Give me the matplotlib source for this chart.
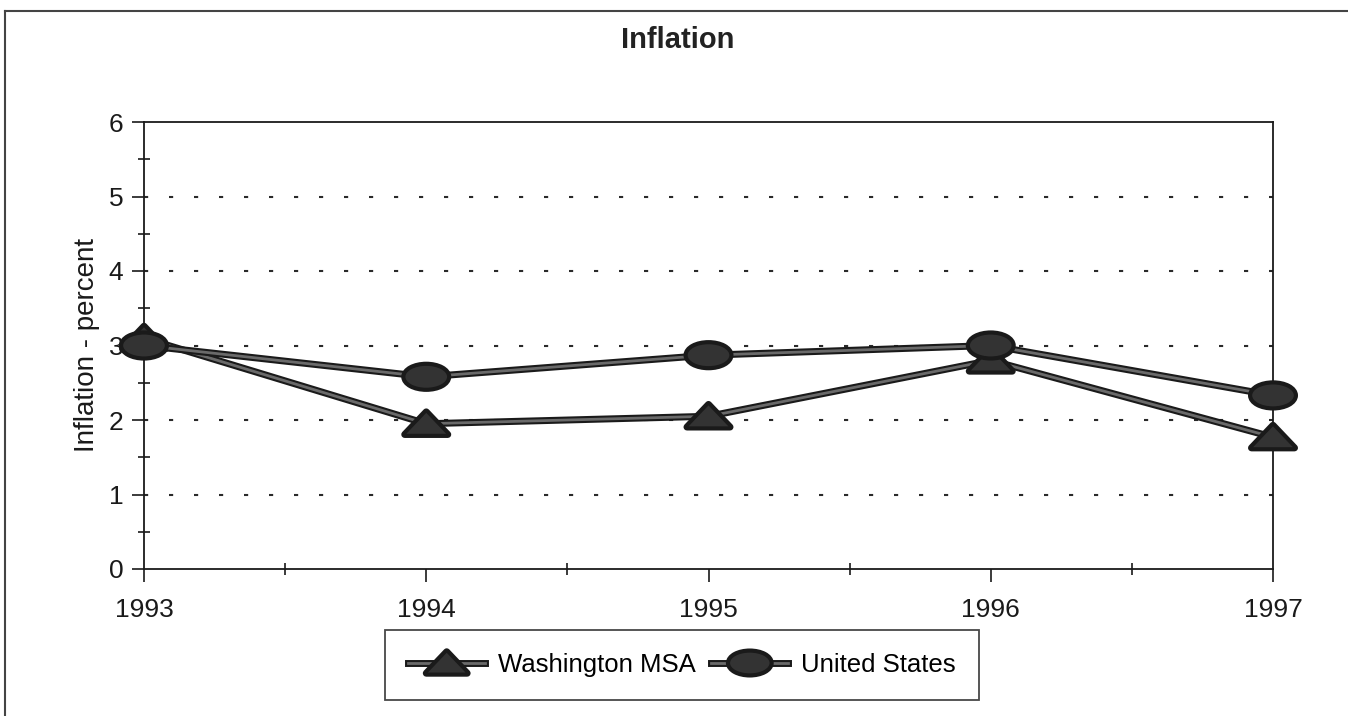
import numpy as np
import matplotlib
matplotlib.use("Agg")
from matplotlib import pyplot as plt
from matplotlib.path import Path
from matplotlib.lines import Line2D
import matplotlib.patheffects as pe

years = [1993, 1994, 1995, 1996, 1997]
washington = [3.1, 1.95, 2.05, 2.8, 1.77]
united_states = [3.0, 2.58, 2.87, 3.0, 2.33]
series_labels = ["Washington MSA", "United States"]

plt.rcParams["font.family"] = ["Liberation Sans", "DejaVu Sans"]

# flattened markers: wide triangle and ellipse
tri = Path([(-1, -0.5), (1, -0.5), (0, 0.55), (-1, -0.5)],
           [Path.MOVETO, Path.LINETO, Path.LINETO, Path.CLOSEPOLY])
circ = Path.unit_circle()
ellipse = Path(circ.vertices * np.array([1.0, 0.54]), circ.codes)

fig = plt.figure(figsize=(13.48, 7.16), dpi=100)
ax = fig.add_axes([144 / 1348, 1 - 569 / 716, (1273 - 144) / 1348, (569 - 122) / 716])

line_fx = [pe.Stroke(linewidth=5, foreground="#1a1a1a"), pe.Normal()]
style = dict(color="#6a6a6a", linewidth=2, markersize=31,
             markerfacecolor="#333333", markeredgecolor="#1a1a1a", markeredgewidth=1,
             path_effects=line_fx, clip_on=False, zorder=3)
ax.plot(years, washington, marker=tri, label=series_labels[0], **style)
ax.plot(years, united_states, marker=ellipse, label=series_labels[1], **style)

ax.set_xlim(1993, 1997)
ax.set_ylim(0, 6)
ax.set_xticks(years)
ax.set_xticks(np.arange(1993.5, 1997, 1), minor=True)
ax.set_yticks(range(0, 7))
ax.set_yticks(np.arange(0.5, 6, 1), minor=True)
ax.tick_params(axis="both", which="major", direction="out", length=9, width=1.2,
               labelsize=19, colors="#1a1a1a")
ax.tick_params(axis="both", which="minor", direction="inout", length=8, width=1.2,
               colors="#1a1a1a")
ax.tick_params(axis="x", which="major", pad=12)
ax.tick_params(axis="y", which="major", pad=6)

for v in range(1, 6):
    ax.axhline(v, color="#2a2a2a", linestyle=(0, (2, 10)), linewidth=1.5, zorder=1)

for s in ax.spines.values():
    s.set_linewidth(1.3)
    s.set_color("#1a1a1a")

ax.set_ylabel("Inflation - percent", fontsize=20, color="#1a1a1a", labelpad=6)
fig.text(678 / 1348, 1 - 40 / 716, "Inflation", ha="center", va="center",
         fontsize=21, fontweight="bold", color="#222222")

leg = fig.legend(loc="center", bbox_to_anchor=(682 / 1348, 1 - 665 / 716), ncol=2,
                 fontsize=18.5, frameon=True, fancybox=False, edgecolor="#1a1a1a",
                 handlelength=3.0, handletextpad=0.5, columnspacing=0.6,
                 borderpad=0.9, borderaxespad=0, markerscale=0.95)
leg.get_frame().set_linewidth(1.3)

# outer chart border (left and top)
fig.add_artist(Line2D([5 / 1348, 5 / 1348], [0, 1 - 11 / 716], color="#444444", linewidth=1.5))
fig.add_artist(Line2D([5 / 1348, 1], [1 - 11 / 716, 1 - 11 / 716], color="#444444", linewidth=1.5))

fig.savefig("out.png", dpi=100)
